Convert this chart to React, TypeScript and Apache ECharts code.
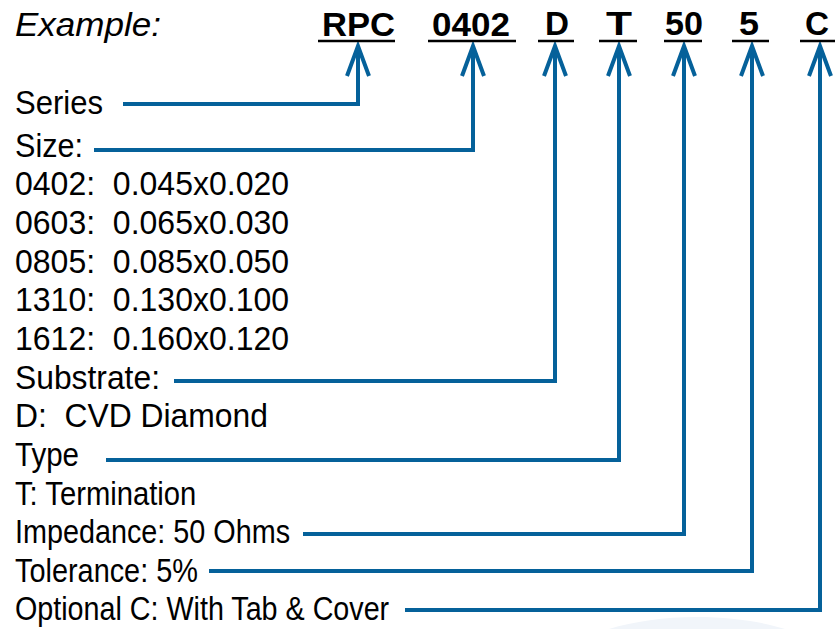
import React, { useEffect, useRef } from "react";
import * as echarts from "echarts";

// ---- content ----
const exampleLabel = "Example:";
const codes = ["RPC", "0402", "D", "T", "50", "5", "C"];
const rowLabels = [
  "Series",
  "Size:",
  "0402:  0.045x0.020",
  "0603:  0.065x0.030",
  "0805:  0.085x0.050",
  "1310:  0.130x0.100",
  "1612:  0.160x0.120",
  "Substrate:",
  "D:  CVD Diamond",
  "Type",
  "T: Termination",
  "Impedance: 50 Ohms",
  "Tolerance: 5%",
  "Optional C: With Tab & Cover",
];
// which row each code points to
const codeRow = [0, 1, 7, 9, 11, 12, 13];

// ---- layout ----
const FONT = "'Liberation Sans', Arial, Helvetica, sans-serif";
const FS = 33;
const BLUE = "#05619a";
const rowCenterY = [103, 146, 184, 223, 262, 300, 339, 378, 416, 455, 494, 532, 571, 609];
const rowRightX = [103, 83, 289, 289, 289, 289, 289, 160, 268, 79, 197, 290, 198, 390];
const lineY = { 0: 104, 1: 150, 7: 381, 9: 460, 11: 534, 12: 571, 13: 610 } as Record<number, number>;
const lineStartX = { 0: 123, 1: 94, 7: 174, 9: 106, 11: 303, 12: 209, 13: 405 } as Record<number, number>;
const codeTextX = [322, 432, 545, 606, 665, 739, 805];
const codeTextRight = [395, 510, 569, 632, 703, 759, 829];
const underlineX = [[318, 395], [428, 516], [538, 574], [599, 637], [664, 702], [732, 769], [800, 836]];
const arrowX = [358, 473, 555, 619, 684, 752, 820];
const TIP_Y = 46;
const HEAD_Y = 76;
const HEAD_W = 11;

let measureCtx: CanvasRenderingContext2D | null = null;
function measure(text: string, font: string): number {
  if (!measureCtx) measureCtx = document.createElement("canvas").getContext("2d");
  if (!measureCtx) return 0;
  measureCtx.font = font;
  return measureCtx.measureText(text).width;
}
function fitScale(text: string, font: string, target: number): number {
  const w = measure(text, font);
  return w > 0 ? target / w : 1;
}

export default function App() {
  const ref = useRef<HTMLDivElement>(null);
  useEffect(() => {
    if (!ref.current) return;
    const chart = echarts.init(ref.current, null, { renderer: "svg" });
    const graphic: any[] = [];

    // faint decorative ellipse at bottom
    graphic.push({
      type: "ellipse",
      shape: { cx: 697, cy: 680, rx: 150, ry: 63 },
      style: { fill: "#f1f5fa" },
      z: 0,
    });

    // Example:
    const exFont = `italic ${FS}px ${FONT}`;
    graphic.push({
      type: "text",
      x: 15,
      y: 24,
      scaleX: fitScale(exampleLabel, exFont, 146),
      style: { text: exampleLabel, font: exFont, fill: "#000", verticalAlign: "middle", align: "left" },
      z: 5,
    });

    // codes
    const codeFont = `bold ${FS}px ${FONT}`;
    codes.forEach((c, i) => {
      graphic.push({
        type: "text",
        x: codeTextX[i],
        y: 24,
        scaleX: fitScale(c, codeFont, codeTextRight[i] - codeTextX[i]),
        style: { text: c, font: codeFont, fill: "#000", verticalAlign: "middle", align: "left" },
        z: 5,
      });
      graphic.push({
        type: "line",
        shape: { x1: underlineX[i][0], y1: 41, x2: underlineX[i][1], y2: 41 },
        style: { stroke: "#000", lineWidth: 2.5 },
        z: 5,
      });
    });

    // row labels
    const rowFont = `${FS}px ${FONT}`;
    rowLabels.forEach((t, i) => {
      graphic.push({
        type: "text",
        x: 15,
        y: rowCenterY[i],
        scaleX: fitScale(t, rowFont, rowRightX[i] - 15),
        style: { text: t, font: rowFont, fill: "#000", verticalAlign: "middle", align: "left" },
        z: 5,
      });
    });

    // connectors and arrows
    codes.forEach((_, i) => {
      const r = codeRow[i];
      const x = arrowX[i];
      const y = lineY[r];
      graphic.push({
        type: "polyline",
        shape: { points: [[lineStartX[r], y], [x, y], [x, TIP_Y + 2]] },
        style: { stroke: BLUE, lineWidth: 4, fill: null, lineJoin: "miter" },
        z: 4,
      });
      graphic.push({
        type: "polyline",
        shape: { points: [[x - HEAD_W, HEAD_Y], [x, TIP_Y], [x + HEAD_W, HEAD_Y]] },
        style: { stroke: BLUE, lineWidth: 4, fill: null, lineJoin: "miter" },
        z: 4,
      });
    });

    chart.setOption({ animation: false, graphic });
    return () => chart.dispose();
  }, []);
  return (
    <div
      ref={ref}
      style={{ position: "fixed", left: 0, top: 0, width: 835, height: 629, background: "#fff" }}
    />
  );
}
